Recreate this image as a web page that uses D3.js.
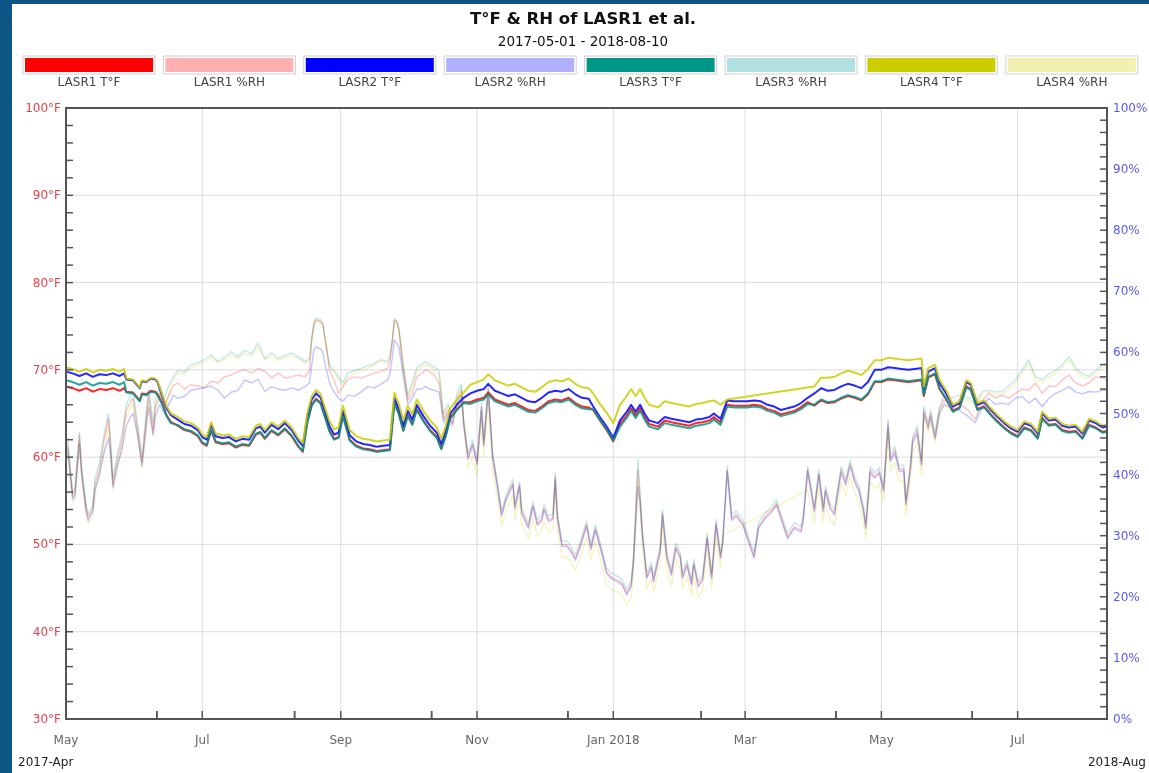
<!DOCTYPE html>
<html><head><meta charset="utf-8">
<script src="https://cdn.jsdelivr.net/npm/d3@7"></script>
<style>
html,body{margin:0;padding:0;background:#0c5585;overflow:hidden;}
svg{display:block;}
text{font-family:"DejaVu Sans",Verdana,sans-serif;}
</style></head><body>
<svg id="chart" width="1149" height="773"></svg>
<script>
// ---------- chart text ----------
const chartTitle = "T°F & RH of LASR1 et al.";
const chartSubtitle = "2017-05-01 - 2018-08-10";
const startDate = "2017-05-01";
const endDate = "2018-08-10";
const leftCornerLabel = "2017-Apr";
const rightCornerLabel = "2018-Aug";

// ---------- series ----------
const seriesNames = ["LASR1 T°F","LASR1 %RH","LASR2 T°F","LASR2 %RH","LASR3 T°F","LASR3 %RH","LASR4 T°F","LASR4 %RH"];
const seriesColors = ["#ff0000","#ffb0b0","#0000ff","#b0b0ff","#009688","#b0e0e0","#cccc00","#f0f0b0"];

// ---------- ticks ----------
const tempTicks = [30,40,50,60,70,80,90,100];
const rhTicks = [0,10,20,30,40,50,60,70,80,90,100];
const monthTickLabels = ["May","Jul","Sep","Nov","Jan 2018","Mar","May","Jul"];

// ---------- temperature data (day offsets from 2017-05-01) ----------
const tempDays = [0,3,6,9,12,15,18,21,24,26,
27,30,33,34,36,38,40,41,43,45,
47,50,53,56,59,61,63,65,67,70,
73,76,79,82,85,87,89,92,95,98,
101,104,106,108,110,112,114,116,118,120,
122,124,127,130,133,136,139,142,145,147,
149,151,153,155,157,160,163,166,168,170,
172,175,178,181,184,187,189,192,195,198,
201,204,207,210,213,216,219,222,225,228,
231,234,236,239,242,245,248,251,253,255,
257,259,261,265,268,271,275,279,282,285,
288,290,293,296,299,302,305,308,311,314,
317,320,323,326,329,332,335,338,341,344,
347,350,353,356,359,362,365,368,371,374,
377,380,383,384,386,389,391,394,397,400,
403,405,408,411,414,417,420,423,426,429,
432,435,437,440,443,446,449,452,455,458,
461,464,466];

const lasr1Temp = [68.1,67.9,67.6,67.9,67.5,67.8,67.7,67.9,67.6,67.9,
67.5,67.4,66.5,67.3,67.2,67.6,67.5,67.2,66.2,64.8,
64.0,63.6,63.1,62.9,62.4,61.6,61.3,63.0,61.7,61.5,
61.6,61.1,61.4,61.3,62.6,62.8,62.1,63.0,62.5,63.2,
62.4,61.2,60.6,64.0,66.0,66.7,66.2,64.6,63.0,62.1,
62.3,64.8,62.0,61.3,61.0,60.9,60.7,60.8,60.9,66.3,
65.0,63.1,64.8,63.8,65.5,64.2,63.1,62.3,61.0,62.5,
64.5,65.5,66.3,66.3,66.6,66.8,67.4,66.6,66.3,66.0,
66.2,65.8,65.4,65.3,65.8,66.4,66.6,66.5,66.8,66.2,
65.8,65.7,65.4,64.2,63.1,61.8,63.8,64.8,65.6,64.8,
65.6,64.6,63.8,63.5,64.2,64.0,63.8,63.6,63.9,64.0,
64.2,64.6,64.0,66.0,65.9,65.9,65.9,66.0,65.9,65.5,
65.3,64.9,65.1,65.3,65.7,66.3,65.9,66.5,66.2,66.3,
66.7,67.0,66.8,66.5,67.2,68.6,68.6,68.9,68.8,68.7,
68.6,68.7,68.8,67.0,69.1,69.5,67.8,66.6,65.3,65.7,
68.1,67.8,65.5,65.8,64.9,64.1,63.4,62.8,62.4,63.4,
63.1,62.2,64.5,63.7,63.8,63.1,62.9,63.0,62.2,63.7,
63.4,62.9,63.0];

const lasr2Temp = [69.8,69.6,69.3,69.6,69.2,69.5,69.4,69.6,69.3,69.6,
68.9,68.8,67.9,68.7,68.6,69.0,68.9,68.6,67.0,65.6,
64.8,64.3,63.8,63.6,63.1,62.3,62.0,63.7,62.4,62.2,
62.3,61.8,62.1,62.0,63.3,63.5,62.8,63.7,63.2,63.9,
63.1,61.9,61.3,64.6,66.6,67.3,66.8,65.2,63.5,62.6,
62.8,65.3,62.5,61.8,61.5,61.4,61.2,61.3,61.4,66.8,
65.5,63.6,65.3,64.3,66.0,64.7,63.6,62.8,61.5,63.0,
65.0,66.0,66.8,67.3,67.6,67.8,68.4,67.6,67.3,67.0,
67.2,66.8,66.4,66.3,66.8,67.4,67.6,67.5,67.8,67.2,
66.8,66.7,65.8,64.6,63.5,62.2,64.2,65.2,66.0,65.2,
66.0,65.0,64.2,63.9,64.6,64.4,64.2,64.0,64.3,64.4,
64.6,65.0,64.4,66.5,66.4,66.4,66.4,66.5,66.4,66.0,
65.8,65.4,65.6,65.8,66.2,66.8,67.3,67.9,67.6,67.7,
68.1,68.4,68.2,67.9,68.6,70.0,70.0,70.3,70.2,70.1,
70.0,70.1,70.2,67.7,69.8,70.2,68.5,67.3,65.8,66.2,
68.6,68.3,66.0,66.3,65.4,64.6,63.9,63.3,62.9,63.9,
63.6,62.7,65.0,64.2,64.3,63.6,63.4,63.5,62.7,64.2,
63.9,63.4,63.5];

const lasr3Temp = [68.8,68.6,68.3,68.6,68.2,68.5,68.4,68.6,68.3,68.6,
67.4,67.3,66.4,67.2,67.1,67.5,67.4,67.1,66.1,64.7,
63.9,63.7,63.2,63.0,62.5,61.7,61.4,63.1,61.8,61.6,
61.7,61.2,61.5,61.4,62.7,62.9,62.2,63.1,62.6,63.3,
62.5,61.3,60.7,63.9,65.9,66.6,66.1,64.5,62.9,62.0,
62.2,64.7,61.9,61.2,60.9,60.8,60.6,60.7,60.8,66.2,
64.9,63.0,64.7,63.7,65.4,64.1,63.0,62.2,60.9,62.4,
64.4,65.4,66.2,66.1,66.4,66.6,67.2,66.4,66.1,65.8,
66.0,65.6,65.2,65.1,65.6,66.2,66.4,66.3,66.6,66.0,
65.6,65.5,65.5,64.3,63.2,61.9,63.5,64.5,65.3,64.5,
65.3,64.3,63.5,63.2,63.9,63.7,63.5,63.3,63.6,63.7,
63.9,64.3,63.7,65.8,65.7,65.7,65.7,65.8,65.7,65.3,
65.1,64.7,64.9,65.1,65.5,66.1,66.0,66.6,66.3,66.4,
66.8,67.1,66.9,66.6,67.3,68.7,68.7,69.0,68.9,68.8,
68.7,68.8,68.9,67.1,69.2,69.6,67.9,66.7,65.2,65.6,
68.0,67.7,65.4,65.7,64.8,64.0,63.3,62.7,62.3,63.3,
63.0,62.1,64.4,63.6,63.7,63.0,62.8,62.9,62.1,63.6,
63.3,62.8,62.9];

const lasr4Temp = [70.3,70.1,69.8,70.1,69.7,70.0,69.9,70.1,69.8,70.1,
69.0,68.9,68.0,68.8,68.7,69.1,69.0,68.7,67.2,65.8,
65.0,64.6,64.1,63.9,63.4,62.6,62.3,64.0,62.7,62.5,
62.6,62.1,62.4,62.3,63.6,63.8,63.1,64.0,63.5,64.2,
63.4,62.2,61.6,65.0,67.0,67.7,67.2,65.6,64.1,63.2,
63.4,65.9,63.1,62.4,62.1,62.0,61.8,61.9,62.0,67.4,
66.1,64.2,65.9,64.9,66.6,65.3,64.2,63.4,62.1,63.6,
65.6,66.6,67.4,68.3,68.6,68.9,69.5,68.8,68.5,68.2,
68.4,68.0,67.6,67.5,68.0,68.6,68.8,68.7,69.0,68.4,
68.0,67.9,67.3,66.1,65.1,63.9,66.0,67.0,67.8,67.0,
67.8,66.8,66.0,65.7,66.4,66.2,66.0,65.8,66.1,66.2,
66.4,66.5,66.0,66.6,null,null,null,null,null,null,
null,null,null,null,null,null,68.1,69.1,69.1,69.2,
69.6,69.9,69.7,69.4,70.1,71.1,71.1,71.4,71.3,71.2,
71.1,71.2,71.3,68.1,70.2,70.6,68.9,67.7,66.0,66.4,
68.8,68.5,66.2,66.5,65.6,64.8,64.1,63.5,63.1,64.1,
63.8,62.9,65.2,64.4,64.5,63.8,63.6,63.7,62.9,64.4,
64.1,63.6,63.7];

// ---------- relative humidity data (day offsets from 2017-05-01) ----------
const rhDays = [0,1,3,4,6,7,9,10,12,13,15,17,19,20,21,23,25,27,29,30,32,34,36,37,39,40,42,44,46,48,
50,53,56,59,62,65,68,71,74,77,80,83,86,89,92,95,98,101,104,107,
109,110,111,112,114,115,116,118,120,122,124,126,129,132,135,138,141,144,145,146,147,148,149,151,153,155,157,159,161,163,165,167,
169,171,173,175,177,178,180,182,184,186,
187,189,191,193,195,197,200,201,203,204,
207,209,211,213,214,216,218,219,220,222,
224,226,228,230,233,235,237,240,242,244,
247,249,251,253,254,256,257,258,260,262,
263,266,267,269,271,273,275,276,278,280,
281,283,285,287,289,291,293,294,296,298,
300,303,305,308,310,313,316,318,320,323,
326,329,330,332,335,337,339,340,342,344,
347,349,351,353,355,357,358,360,362,364,
366,368,369,371,373,375,376,378,379,381,
383,384,386,387,389,391,393,396,
400,404,407,410,413,416,419,422,425,428,431,434,437,440,443,446,449,452,455,458,461,464,466];

const lasr1RH = [45.5,44,36.5,37,46.5,40.5,34.5,33,34.5,38.5,41,45.5,49.2,44.5,38.5,42.4,45.5,50.5,52,52.5,47.5,42,49.5,53,47.3,51,53.4,51,53,54.5,
55,54,54.7,54.5,54.2,55.3,55,56,56.3,56.9,57.2,56.6,57.4,56.9,55.8,56.6,55.8,56,56.3,56,
57,62,64.5,65.3,65,64.5,62,57,55.5,53.3,54.4,55.5,56,55.8,56.2,56.6,56.9,57.4,58.5,61.5,65.3,65,63.7,57.2,52.2,53.3,56,56.5,57.2,56.8,56.2,55,
49,50.6,48.4,52.2,53.8,48.4,42.9,45.1,41.9,51.1,
45,54,42.9,38.5,33.5,36.1,38.6,34.7,38.3,33.9,
31.5,35,32,32.8,34.5,32.6,33,39.7,33,28.5,
28.6,27.7,26.3,28.2,31.8,28,31.2,27.1,24.1,23.3,
22.7,22.2,20.6,22,26,40.8,36,30.4,23.3,25,
22.7,27.7,33.7,26.5,23.8,28.2,26.6,23.3,25.4,22.2,
25.5,21.9,23,29.8,23.3,32,26.6,29,40.8,32.8,
33.5,32,29.8,26.6,31.5,33.1,34.2,35.3,33.1,29.8,
31.5,30.9,32.6,40.8,34.2,40.2,34.2,37.5,34.7,33.7,
40.8,38.6,41.8,39.1,37.5,34.2,31.5,40.8,39.7,40.5,
37.5,48.4,42.5,44,40.8,41,35.3,41.3,45.7,47.3,
41.8,50.6,47.9,50,46.2,50.6,52.2,51.7,
51.5,50.5,49,52,53.3,52.5,53,52.5,53.3,54,53.8,55,53.3,54.5,54.4,55.5,56.3,55,54.5,55,56,55.8,55.5];

const lasr2RH = [45,43,36,36.5,45,40,34,32.5,34,37.5,40,43.5,46,43,38,41.5,44,48,49.5,50,46.5,41.5,48,51,46.5,49.5,51.5,50,51.5,53,
52.5,52.8,53.8,54,54.2,54.5,53.8,52.5,53.5,53.8,55.5,55,55.6,53.6,54.4,54,53.8,54.2,53.8,54.4,
55,58,60.5,60.9,60.5,60,58,55,53.5,52.5,52,53,52.8,53.5,54.4,54.2,54.8,55.5,56.5,59,62,61.5,61,56,51.5,52.5,54,54,54.4,54,53.8,53.5,
48.5,50,48,51.5,53,48,42.5,44.8,41.6,50.5,
44.7,53.5,42.6,38.2,33.2,35.8,38.3,34.4,38,33.6,
31.2,34.7,31.7,32.5,34.2,32.3,32.7,39.2,32.7,28.2,
28.3,27.4,26,27.9,31.5,27.7,30.9,26.8,23.8,23,
22.4,21.9,20.3,21.7,25.5,38,35.5,30,23,24.7,
22.4,27.4,33.4,26.2,23.5,27.9,26.3,23,25.1,21.9,
25.2,21.6,22.7,29.5,23,31.7,26.3,28.7,40.5,32.5,
33.2,31.7,29.5,26.3,31.2,32.8,33.9,35,32.8,29.5,
31.2,30.6,32.3,40.5,33.9,39.9,33.9,37.2,34.4,33.4,
40.3,38.3,41.4,38.8,37.2,33.9,31.2,40.3,39.4,40.2,
37.2,47.8,42.2,43.5,40.5,40.6,35,40.8,45.2,46.7,
41.5,50,47.5,49.5,45.8,50,51.5,51,
50.5,49.5,48.5,51,52.5,51.5,51.7,51.5,52.5,52.8,51.7,52.5,51.1,52.5,53.3,53.8,54.4,53.5,53.2,53.6,53.5,53.8,53.8];

const lasr3RH = [46.5,45,37,38,47,41.5,35,33.5,35,39.5,42,46.5,50,45.5,39.5,43.5,46.5,51.5,53,53.5,48.5,43,50.5,54,48.5,52.5,54.5,52.5,54.5,56,
57.1,56.8,58,58.3,58.8,59.6,58.5,59.2,60.1,59.3,60.4,59.8,61.5,59,59.9,59,59.5,59.9,59.3,58.5,
59,62.5,65,65.6,65.3,64.8,62.5,58,57.1,56,55,56.6,57,57.4,57.8,58.2,58.8,58.5,59.5,62,65.5,65.2,64,58,53,55,57.5,58,58.5,58,57.5,57,
50,51.6,49.4,53.2,54.8,49.2,43.5,45.7,42.5,51.7,
45.6,54.6,43.5,39.1,34.1,36.7,39.2,35.3,38.9,34.5,
32.1,35.6,32.6,33.4,35.1,33.2,33.6,40.3,33.6,29.1,
29.2,28.3,26.9,28.8,32.4,28.6,31.8,27.7,24.7,23.9,
23.3,22.8,21.2,22.6,26.6,42.5,37,31,23.9,25.6,
23.3,28.3,34.3,27.1,24.4,28.8,27.2,23.9,26,22.8,
26.1,22.5,23.6,30.4,23.9,32.6,27.2,29.6,41.4,33.4,
34.1,32.6,30.4,27.2,32.1,33.7,34.8,35.9,33.7,30.4,
32.1,31.5,33.2,41.4,34.8,40.8,34.8,38.1,35.3,34.3,
41.4,39.2,42.4,39.7,38.1,34.8,32.1,41.4,40.3,41.1,
38.1,49,43.1,44.6,41.4,41.6,35.9,41.9,46.3,47.9,
42.4,51.2,48.5,50.6,46.8,51.2,52.8,52.5,
53,52.5,51.5,53.5,53.8,53.5,53.6,54.5,55.5,57.1,58.8,56,55.5,56.5,57,58,59.3,57.5,56.5,56.1,57,58,58.3];

const lasr4RH = [44.5,43,35.5,36,45.5,39.5,33.5,32,33,37,40,44,48,43.5,37.5,41,44.5,49.5,51,51.5,46.5,41,48.5,52,46.5,50.5,53,51,53,55.5,
56.6,56.5,57.5,58,58.3,59.2,58.3,58.8,59.5,59,59.8,59.5,60.8,58.8,59.4,58.7,59.2,59.4,59,58.3,
58.5,62,64.5,65.3,65,64.5,62,57.5,56.8,55.5,54.5,56,56.5,57,57.4,58,58.5,58.3,59,61.5,65,65,63.8,57.5,52.5,54.5,57,57.5,58,57.6,57,56.5,
49.5,51.1,48.9,52.7,54.3,48.9,40.9,43.1,39.9,49.1,
43,52,40.9,36.5,31.5,34.1,36.6,32.7,36.3,31.9,
29.5,33,30,30.8,32.5,30.6,31,37.7,31,26.5,
26.6,25.7,24.3,26.2,29.8,26,29.2,25.1,22.1,21.3,
20.7,20.2,18.6,20,24,38.8,34,28.4,21.3,23,
20.7,25.7,31.7,24.5,21.8,26.2,24.6,21.3,23.4,20.2,
23.5,19.9,21,27.8,21.3,30,24.6,30,null,null,
null,null,null,null,null,null,null,null,null,null,
null,null,null,37.5,32.2,38.2,32.2,35.5,32.7,31.7,
38.8,36.6,39.8,37.1,35.5,32.2,29.5,38.8,37.7,38.5,
35.5,46.4,40.5,42,38.8,39,33.3,39.3,43.7,45.3,
39.8,49.6,46.9,49,45.2,49.6,51.2,50.7,
52.5,52,51,53,53.5,53,53.2,54,55,56.5,58.2,55.5,55,56,56.5,57.5,58.8,57,56,55.8,56.5,57.5,57.8];

// ---------- drawing ----------
const W = 1149, H = 773;
const svg = d3.select("#chart");
const parse = d3.timeParse("%Y-%m-%d");
const t0 = parse(startDate), t1 = parse(endDate);

svg.append("rect").attr("width", W).attr("height", H).attr("fill", "#0c5585");
svg.append("rect").attr("x", 12).attr("y", 4).attr("width", W - 12).attr("height", H - 4).attr("fill", "#ffffff");

const plot = {left: 66, right: 1107, top: 108, bottom: 719};
const x = d3.scaleTime().domain([t0, t1]).range([plot.left, plot.right]);
const yT = d3.scaleLinear().domain([30, 100]).range([plot.bottom, plot.top]);
const yR = d3.scaleLinear().domain([0, 100]).range([plot.bottom, plot.top]);

// title
svg.append("text").attr("x", 583).attr("y", 24).attr("text-anchor", "middle")
  .attr("font-size", 16.5).attr("font-weight", "bold").attr("fill", "#111").text(chartTitle);
svg.append("text").attr("x", 583).attr("y", 46).attr("text-anchor", "middle")
  .attr("font-size", 13.5).attr("fill", "#111").text(chartSubtitle);

// legend
const legendStep = 140.4, legendX0 = 25, swW = 128, swH = 14;
const lg = svg.append("g");
seriesNames.forEach((name, i) => {
  const lx = legendX0 + i * legendStep;
  lg.append("rect").attr("x", lx - 2).attr("y", 56).attr("width", swW + 4).attr("height", swH + 4)
    .attr("fill", "#fff").attr("stroke", "#d0d0d0").attr("stroke-width", 1);
  lg.append("rect").attr("x", lx).attr("y", 58).attr("width", swW).attr("height", swH).attr("fill", seriesColors[i]);
  lg.append("text").attr("x", lx + swW / 2).attr("y", 86).attr("text-anchor", "middle")
    .attr("font-size", 12).attr("fill", "#444").text(name);
});

// time ticks
const majorTicks = d3.timeMonth.every(2).range(t0, d3.timeMonth.offset(t1, 3));
const minorTicks = [];
for (let i = 0; i < majorTicks.length - 1; i++) {
  const itp = d3.interpolateDate(majorTicks[i], majorTicks[i + 1]);
  minorTicks.push(itp(1 / 3), itp(2 / 3));
}
const majorIn = majorTicks.filter(d => d <= t1);
const minorIn = minorTicks.filter(d => d <= t1);

// gridlines
const grid = svg.append("g").attr("stroke", "#dcdcdc").attr("stroke-width", 1);
majorIn.forEach(d => {
  if (+d === +t0) return;
  grid.append("line").attr("x1", x(d)).attr("x2", x(d)).attr("y1", plot.top).attr("y2", plot.bottom);
});
tempTicks.forEach(v => {
  if (v === 30 || v === 100) return;
  grid.append("line").attr("x1", plot.left).attr("x2", plot.right).attr("y1", yT(v)).attr("y2", yT(v));
});

// data lines
const toPoints = (days, vals) => days.map((d, i) => ({date: d3.timeDay.offset(t0, d), v: vals[i]}))
  .filter(p => p.v !== null && p.v !== undefined);
const tempLine = d3.line().x(p => x(p.date)).y(p => yT(p.v));
const rhLine = d3.line().x(p => x(p.date)).y(p => yR(p.v));

const series = [
  {vals: lasr1Temp, days: tempDays, kind: "T"},
  {vals: lasr1RH, days: rhDays, kind: "RH"},
  {vals: lasr2Temp, days: tempDays, kind: "T"},
  {vals: lasr2RH, days: rhDays, kind: "RH"},
  {vals: lasr3Temp, days: tempDays, kind: "T"},
  {vals: lasr3RH, days: rhDays, kind: "RH"},
  {vals: lasr4Temp, days: tempDays, kind: "T"},
  {vals: lasr4RH, days: rhDays, kind: "RH"}
];
const lines = svg.append("g");
// RH first (pastel, multiplied), then temperature on top
series.forEach((s, i) => {
  if (s.kind !== "RH") return;
  lines.append("path").datum(toPoints(s.days, s.vals))
    .attr("d", rhLine).attr("fill", "none").attr("stroke", seriesColors[i])
    .attr("stroke-width", 1.4).attr("stroke-linejoin", "round").attr("stroke-opacity", 0.75)
    .style("mix-blend-mode", "multiply");
});
series.forEach((s, i) => {
  if (s.kind !== "T") return;
  lines.append("path").datum(toPoints(s.days, s.vals))
    .attr("d", tempLine).attr("fill", "none").attr("stroke", seriesColors[i])
    .attr("stroke-width", 2).attr("stroke-linejoin", "round").attr("stroke-opacity", 0.85);
});

// frame
svg.append("rect").attr("x", plot.left).attr("y", plot.top)
  .attr("width", plot.right - plot.left).attr("height", plot.bottom - plot.top)
  .attr("fill", "none").attr("stroke", "#555").attr("stroke-width", 2);

// axis ticks
const axG = svg.append("g").attr("stroke", "#555").attr("stroke-width", 1.5);
d3.range(30, 100.1, 2).forEach(v => {
  axG.append("line").attr("x1", plot.left).attr("x2", plot.left + 7).attr("y1", yT(v)).attr("y2", yT(v));
});
d3.range(0, 100.1, 2).forEach(v => {
  axG.append("line").attr("x1", plot.right).attr("x2", plot.right - 7).attr("y1", yR(v)).attr("y2", yR(v));
});
majorIn.concat(minorIn).forEach(d => {
  axG.append("line").attr("x1", x(d)).attr("x2", x(d)).attr("y1", plot.bottom).attr("y2", plot.bottom - 8);
});

tempTicks.forEach(v => {
  svg.append("text").attr("x", plot.left - 5).attr("y", yT(v) + 4).attr("text-anchor", "end")
    .attr("font-size", 12).attr("fill", "#e8414a").text(v + "°F");
});
rhTicks.forEach(v => {
  svg.append("text").attr("x", plot.right + 6).attr("y", yR(v) + 4).attr("text-anchor", "start")
    .attr("font-size", 12).attr("fill", "#5a5af0").text(v + "%");
});
majorIn.forEach((d, i) => {
  svg.append("text").attr("x", x(d)).attr("y", 744).attr("text-anchor", "middle")
    .attr("font-size", 12).attr("fill", "#666").text(monthTickLabels[i]);
});
svg.append("text").attr("x", 18).attr("y", 766).attr("font-size", 12).attr("fill", "#222").text(leftCornerLabel);
svg.append("text").attr("x", 1146).attr("y", 766).attr("text-anchor", "end").attr("font-size", 12).attr("fill", "#222").text(rightCornerLabel);
</script>
</body></html>
